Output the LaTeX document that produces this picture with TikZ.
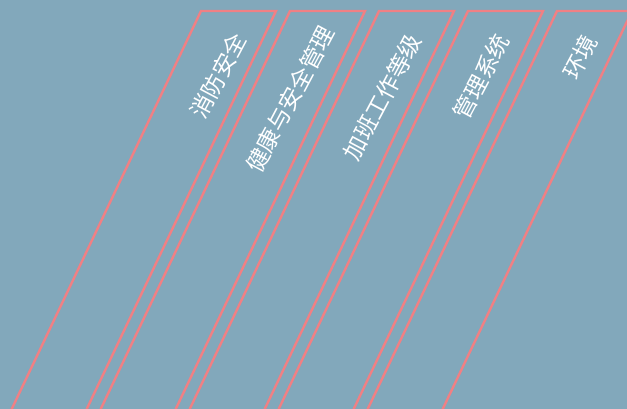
\documentclass[tikz,border=0pt]{standalone}
\usepackage{fontspec}
\newfontfamily\cjk{Noto Sans CJK SC}
\definecolor{bgc}{RGB}{130,168,187}
\definecolor{edgec}{RGB}{240,128,132}
\begin{document}
\begin{tikzpicture}[x=1pt,y=-1pt,
  band/.style={draw=edgec,line width=2.4pt,line join=miter},
  lbl/.style={text=white,font=\cjk\fontsize{23}{23}\selectfont,rotate=62,anchor=east,inner sep=0pt}]
\fill[bgc] (0,0) rectangle (627,409);
\useasboundingbox (0,0) rectangle (627,409);
\clip (0,0) rectangle (627,409);
\foreach \i in {0,...,4}{
  \pgfmathsetmacro{\xl}{201+89*\i}
  \draw[band] (\xl-204,440) -- (\xl,11) -- (\xl+75,11) -- (\xl+75-204,440);
}
\node[lbl] (t1) at (240,35) {消防安全};
\node[lbl] (t2) at (328,28) {健康与安全管理};
\node[lbl] (t3) at (415,36) {加班工作等级};
\node[lbl] (t4) at (503,36) {管理系统};
\node[lbl] (t5) at (591,37) {环境};
\end{tikzpicture}
\end{document}
